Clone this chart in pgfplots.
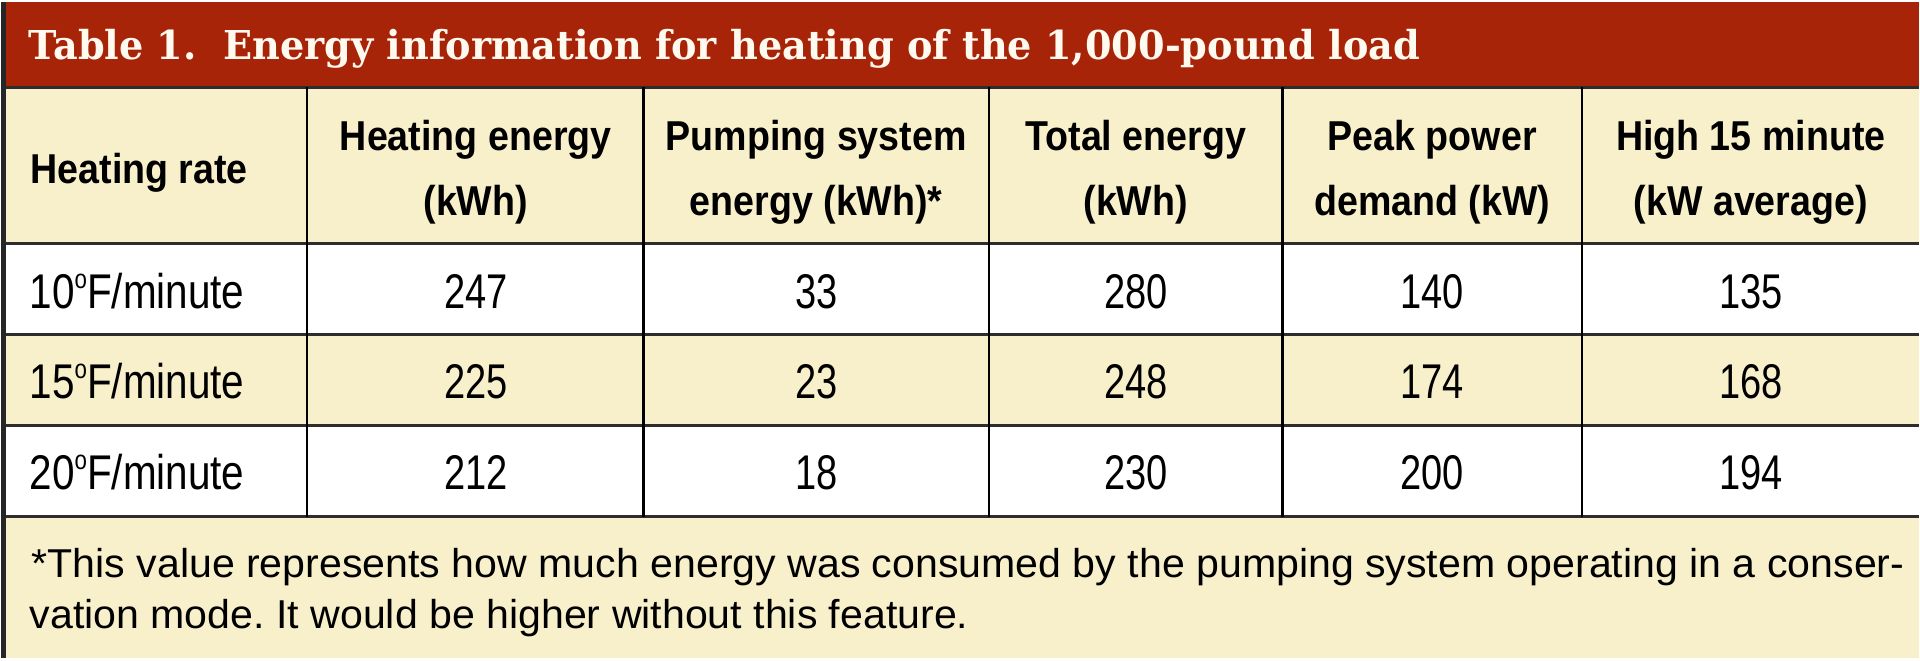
\documentclass[border=0pt]{standalone}
\usepackage{pgfplots}
\usepackage{pgfplotstable}
\pgfplotsset{compat=1.18}
\usepackage{fontspec}
\usepackage{pdfrender}
\setmainfont{Liberation Sans}
\newfontfamily\bodyfont[FakeStretch=0.78]{Liberation Sans}
\newfontfamily\labfont[FakeStretch=0.83]{Liberation Sans}
\newfontfamily\headfont[FakeStretch=0.90]{Liberation Sans}
\newfontfamily\footfont[FakeStretch=1.02]{Liberation Sans}
\newfontfamily\titlefont[FakeStretch=0.96]{DejaVu Serif}
\definecolor{barred}{RGB}{168,36,8}
\definecolor{cream}{RGB}{248,240,202}
\definecolor{gridc}{RGB}{45,45,45}
\definecolor{titlewhite}{RGB}{255,250,240}
\definecolor{shadowc}{RGB}{55,10,0}
\newcommand\bodysz{\bodyfont\fontsize{49}{49}\selectfont}
\newcommand\labsz{\labfont\fontsize{49}{49}\selectfont}
\newcommand\headsz{\headfont\bfseries\fontsize{42}{42}\selectfont}
\newcommand\footsz{\footfont\fontsize{40.5}{40.5}\selectfont}
\newcommand\titlesz{\titlefont\bfseries\fontsize{40}{40}\selectfont}
\newcommand\dego{\raisebox{20bp}{\fontsize{27}{27}\selectfont o}}
\newcommand\titletext{Table 1.\ \ Energy information for heating of the 1,000-pound load}

% rows: baseline y (pixels from top) and cell values
\pgfplotstableread{
y heat pump total peak high
306.5 247 33 280 140 135
397 225 23 248 174 168
488 212 18 230 200 194
}\datatab

\begin{document}
\frenchspacing
\begin{tikzpicture}
\begin{axis}[
  scale only axis, width=1920bp, height=657bp,
  xmin=0, xmax=1920, ymin=0, ymax=657, y dir=reverse,
  hide axis, clip=false,
  every node near coord/.append style={anchor=base, inner sep=0pt, font=\bodysz, text=black},
]
% backgrounds
\fill[white] (axis cs:0,0) rectangle (axis cs:1920,657);
\fill[barred] (axis cs:0,0) rectangle (axis cs:1920,84);
\fill[cream] (axis cs:0,84) rectangle (axis cs:1920,241);
\fill[cream] (axis cs:0,333) rectangle (axis cs:1920,424);
\fill[cream] (axis cs:0,515) rectangle (axis cs:1920,657);
% grid lines
\draw[gridc, line width=3bp] (axis cs:0,85) -- (axis cs:1920,85);
\draw[gridc, line width=3bp] (axis cs:0,241) -- (axis cs:1920,241);
\draw[gridc, line width=3bp] (axis cs:0,333) -- (axis cs:1920,333);
\draw[gridc, line width=3bp] (axis cs:0,424) -- (axis cs:1920,424);
\draw[gridc, line width=3bp] (axis cs:0,515) -- (axis cs:1920,515);
\draw[black, line width=2.5bp] (axis cs:306,85) -- (axis cs:306,515);
\draw[black, line width=2.5bp] (axis cs:643,85) -- (axis cs:643,515);
\draw[black, line width=2.5bp] (axis cs:989,85) -- (axis cs:989,515);
\draw[black, line width=2.5bp] (axis cs:1283,85) -- (axis cs:1283,515);
\draw[black, line width=2.5bp] (axis cs:1583,85) -- (axis cs:1583,515);
\draw[black!85, line width=5bp] (axis cs:2.5,0) -- (axis cs:2.5,657);
% title: white fill with dark outline
\node[anchor=base west, inner sep=0pt, font=\titlesz, text=titlewhite] at (axis cs:27,57) {\textpdfrender{TextRenderingMode=FillStroke, LineWidth=2.2, StrokeColor=shadowc, FillColor=titlewhite}{\titletext}};
% header
\node[anchor=base west, inner sep=0pt, font=\headsz] at (axis cs:29,181) {Heating rate};
\node[anchor=base, inner sep=0pt, font=\headsz] at (axis cs:475,148) {Heating energy};
\node[anchor=base, inner sep=0pt, font=\headsz] at (axis cs:475,213) {(kWh)};
\node[anchor=base, inner sep=0pt, font=\headsz] at (axis cs:816,148) {Pumping system};
\node[anchor=base, inner sep=0pt, font=\headsz] at (axis cs:816,213) {energy (kWh)*};
\node[anchor=base, inner sep=0pt, font=\headsz] at (axis cs:1136,148) {Total energy};
\node[anchor=base, inner sep=0pt, font=\headsz] at (axis cs:1136,213) {(kWh)};
\node[anchor=base, inner sep=0pt, font=\headsz] at (axis cs:1433,148) {Peak power};
\node[anchor=base, inner sep=0pt, font=\headsz] at (axis cs:1433,213) {demand (kW)};
\node[anchor=base, inner sep=0pt, font=\headsz] at (axis cs:1752,148) {High 15 minute};
\node[anchor=base, inner sep=0pt, font=\headsz] at (axis cs:1752,213) {(kW average)};
% row labels
\node[anchor=base west, inner sep=0pt, font=\labsz] at (axis cs:28,306.5) {10\dego F/minute};
\node[anchor=base west, inner sep=0pt, font=\labsz] at (axis cs:28,397) {15\dego F/minute};
\node[anchor=base west, inner sep=0pt, font=\labsz] at (axis cs:28,488) {20\dego F/minute};
% data cells
\addplot[draw=none, mark=none, nodes near coords, point meta=explicit symbolic] table[x expr=475, y=y, meta=heat] {\datatab};
\addplot[draw=none, mark=none, nodes near coords, point meta=explicit symbolic] table[x expr=816, y=y, meta=pump] {\datatab};
\addplot[draw=none, mark=none, nodes near coords, point meta=explicit symbolic] table[x expr=1136, y=y, meta=total] {\datatab};
\addplot[draw=none, mark=none, nodes near coords, point meta=explicit symbolic] table[x expr=1433, y=y, meta=peak] {\datatab};
\addplot[draw=none, mark=none, nodes near coords, point meta=explicit symbolic] table[x expr=1752, y=y, meta=high] {\datatab};
% footnote
\node[anchor=base west, inner sep=0pt, font=\footsz] at (axis cs:30,576) {*This value represents how much energy was consumed by the pumping system operating in a conser-};
\node[anchor=base west, inner sep=0pt, font=\footsz] at (axis cs:28,627) {vation mode. It would be higher without this feature.};
\end{axis}
\end{tikzpicture}
\end{document}
